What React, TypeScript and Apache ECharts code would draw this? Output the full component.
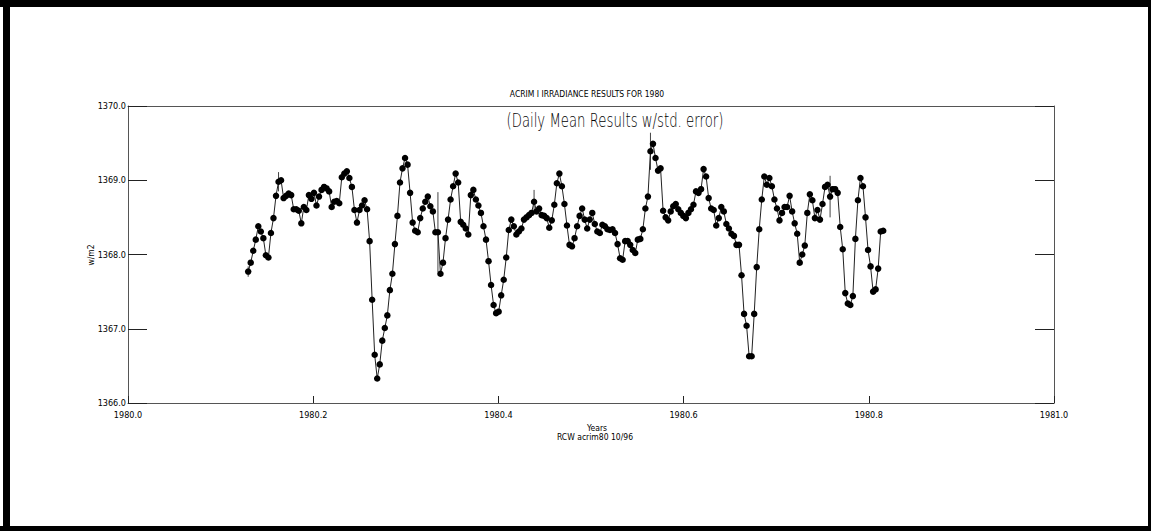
import { useEffect, useRef } from "react";
import * as echarts from "echarts";

// Daily mean ACRIM I irradiance, 1980 (leap year, 366 days); first value is day-of-year 48
const firstDay = 48;
const daysInYear = 366;
const irradiance = [
  1367.77, 1367.89, 1368.05, 1368.2, 1368.38, 1368.31, 1368.22, 1367.99, 1367.96, 1368.29,
  1368.49, 1368.79, 1368.98, 1369.0, 1368.76, 1368.79, 1368.82, 1368.8, 1368.61, 1368.61,
  1368.59, 1368.42, 1368.64, 1368.6, 1368.8, 1368.75, 1368.83, 1368.66, 1368.78, 1368.87,
  1368.91, 1368.89, 1368.85, 1368.64, 1368.71, 1368.72, 1368.69, 1369.04, 1369.09, 1369.12,
  1369.03, 1368.91, 1368.6, 1368.43, 1368.6, 1368.66, 1368.73, 1368.61, 1368.18, 1367.39,
  1366.65, 1366.33, 1366.52, 1366.84, 1367.01, 1367.18, 1367.52, 1367.74, 1368.14, 1368.52,
  1368.97, 1369.16, 1369.3, 1369.21, 1368.83, 1368.43, 1368.32, 1368.3, 1368.49, 1368.62,
  1368.71, 1368.78, 1368.65, 1368.58, 1368.3, 1368.3, 1367.74, 1367.89, 1368.22, 1368.47,
  1368.74, 1368.92, 1369.09, 1368.97, 1368.44, 1368.4, 1368.35, 1368.27, 1368.8, 1368.87,
  1368.74, 1368.66, 1368.56, 1368.38, 1368.2, 1367.91, 1367.59, 1367.32, 1367.21, 1367.23,
  1367.45, 1367.66, 1367.96, 1368.33, 1368.47, 1368.38, 1368.27, 1368.31, 1368.35, 1368.47,
  1368.5, 1368.53, 1368.56, 1368.71, 1368.58, 1368.62, 1368.53, 1368.52, 1368.49, 1368.36,
  1368.46, 1368.67, 1368.96, 1369.09, 1368.92, 1368.68, 1368.39, 1368.13, 1368.11, 1368.22,
  1368.38, 1368.52, 1368.62, 1368.47, 1368.35, 1368.47, 1368.56, 1368.41, 1368.31, 1368.29,
  1368.4, 1368.38, 1368.34, 1368.33, 1368.34, 1368.29, 1368.14, 1367.95, 1367.93, 1368.18,
  1368.18, 1368.13, 1368.06, 1368.02, 1368.2, 1368.21, 1368.34, 1368.62, 1368.78, 1369.39,
  1369.49, 1369.3, 1369.13, 1369.16, 1368.59, 1368.5, 1368.46, 1368.58, 1368.65, 1368.68,
  1368.61, 1368.56, 1368.52, 1368.49, 1368.56, 1368.61, 1368.67, 1368.85, 1368.83, 1368.88,
  1369.15, 1369.05, 1368.76, 1368.62, 1368.6, 1368.39, 1368.49, 1368.64, 1368.58, 1368.41,
  1368.35, 1368.28, 1368.25, 1368.13, 1368.13, 1367.72, 1367.2, 1367.04, 1366.63, 1366.63,
  1367.2, 1367.83, 1368.34, 1368.74, 1369.05, 1368.94, 1369.03, 1368.92, 1368.74, 1368.62,
  1368.46, 1368.56, 1368.64, 1368.64, 1368.79, 1368.58, 1368.42, 1368.28, 1367.89, 1368.0,
  1368.12, 1368.56, 1368.81, 1368.73, 1368.49, 1368.6, 1368.47, 1368.68, 1368.91, 1368.94,
  1368.78, 1368.88, 1368.88, 1368.83, 1368.37, 1368.07, 1367.48, 1367.34, 1367.32, 1367.44,
  1368.21, 1368.73, 1369.03, 1368.92, 1368.5, 1368.06, 1367.84, 1367.5, 1367.53, 1367.81,
  1368.31, 1368.32,
];
// visible standard-error bars: index into irradiance, half-length in W/m2
const errIdx = [0, 12, 75, 113, 159, 230];
const errSize = [0.07, 0.13, 0.54, 0.16, 0.25, 0.28];

const xMin = 1980.0;
const xMax = 1981.0;
const xStep = 0.2;
const yMin = 1366.0;
const yMax = 1370.0;
const yStep = 1.0;

const titleText = "ACRIM I IRRADIANCE RESULTS FOR 1980";
const subtitleText = "(Daily Mean Results w/std. error)";
const xName = "Years";
const footnote = "RCW acrim80 10/96";
const yName = "w/m2";

const narrow = '"Liberation Sans Narrow", "DejaVu Sans Condensed", "Arial Narrow", sans-serif';
const thinFont = '"DejaVu Sans", sans-serif';

function measure(text: string, font: string): number {
  const c = document.createElement("canvas");
  const ctx = c.getContext("2d");
  if (!ctx) return 0;
  ctx.font = font;
  return ctx.measureText(text).width;
}

export default function App() {
  const ref = useRef<HTMLDivElement>(null);
  useEffect(() => {
    const chart = echarts.init(ref.current as HTMLDivElement, null, { renderer: "svg" });
    const pts = irradiance.map((v, i) => [xMin + (firstDay + i - 0.5) / daysInYear, v]);
    const errData = errIdx.map((i, k) => [pts[i][0], pts[i][1] - errSize[k], pts[i][1] + errSize[k]]);
    const axisLineStyle = { color: "#555", width: 1 };

    const subSize = 20;
    const subW = measure(subtitleText, `300 ${subSize}px ${thinFont}`) || 300;
    const subScale = 217 / subW;

    chart.setOption({
      animation: false,
      backgroundColor: "#fff",
      grid: { left: 128, right: 97, top: 106, bottom: 128, containLabel: false },
      xAxis: [
        {
          type: "value",
          min: xMin,
          max: xMax,
          interval: xStep,
          position: "bottom",
          axisLine: { show: true, onZero: false, lineStyle: axisLineStyle },
          axisTick: { show: true, inside: true, length: 7, lineStyle: { color: "#222", width: 1 } },
          axisLabel: {
            formatter: (v: number) => v.toFixed(1),
            fontSize: 9,
            color: "#000",
            margin: 7,
            fontFamily: narrow,
          },
          splitLine: { show: false },
        },
        {
          type: "value",
          min: xMin,
          max: xMax,
          interval: xStep,
          position: "top",
          axisLine: { show: true, onZero: false, lineStyle: axisLineStyle },
          axisTick: { show: false },
          axisLabel: { show: false },
          splitLine: { show: false },
        },
      ],
      yAxis: [
        {
          type: "value",
          min: yMin,
          max: yMax,
          interval: yStep,
          position: "left",
          axisLine: { show: true, onZero: false, lineStyle: axisLineStyle },
          axisTick: { show: true, inside: true, length: 19, lineStyle: { color: "#222", width: 1 } },
          axisLabel: {
            formatter: (v: number) => v.toFixed(1),
            fontSize: 9,
            color: "#000",
            margin: 2,
            fontFamily: narrow,
          },
          splitLine: { show: false },
        },
        {
          type: "value",
          min: yMin,
          max: yMax,
          interval: yStep,
          position: "right",
          axisLine: { show: true, onZero: false, lineStyle: axisLineStyle },
          axisTick: { show: true, inside: true, length: 19, lineStyle: { color: "#222", width: 1 } },
          axisLabel: { show: false },
          splitLine: { show: false },
        },
      ],
      series: [
        {
          type: "custom",
          xAxisIndex: 0,
          yAxisIndex: 0,
          data: errData,
          z: 1,
          renderItem: (params: any, api: any) => {
            const lo = api.coord([api.value(0), api.value(1)]);
            const hi = api.coord([api.value(0), api.value(2)]);
            return {
              type: "line",
              shape: { x1: lo[0], y1: lo[1], x2: hi[0], y2: hi[1] },
              style: { stroke: "#444", lineWidth: 1 },
            };
          },
        },
        {
          type: "line",
          xAxisIndex: 0,
          yAxisIndex: 0,
          data: pts,
          showSymbol: true,
          symbol: "circle",
          symbolSize: 6.5,
          itemStyle: { color: "#000" },
          lineStyle: { color: "#222", width: 1 },
          z: 2,
        },
      ],
      graphic: [
        { type: "rect", shape: { x: 0, y: 0, width: 1151, height: 7 }, style: { fill: "#000" } },
        { type: "rect", shape: { x: 3, y: 0, width: 7, height: 531 }, style: { fill: "#000" } },
        { type: "rect", shape: { x: 1148, y: 0, width: 3, height: 531 }, style: { fill: "#000" } },
        { type: "rect", shape: { x: 0, y: 526, width: 1151, height: 5 }, style: { fill: "#000" } },
        {
          type: "text",
          x: 587,
          y: 98,
          style: { text: titleText, fontSize: 8.5, fontFamily: narrow, fill: "#000", align: "center", verticalAlign: "bottom" },
        },
        {
          type: "text",
          x: 615,
          y: 120,
          scaleX: subScale,
          style: {
            text: subtitleText,
            fontSize: subSize,
            fontWeight: 300,
            fontFamily: thinFont,
            fill: "#000",
            align: "center",
            verticalAlign: "middle",
          },
        },
        {
          type: "text",
          x: 597,
          y: 428,
          style: { text: xName, fontSize: 8.5, fontFamily: narrow, fill: "#000", align: "center", verticalAlign: "middle" },
        },
        {
          type: "text",
          x: 595,
          y: 437,
          style: { text: footnote, fontSize: 8.5, fontFamily: narrow, fill: "#000", align: "center", verticalAlign: "middle" },
        },
        {
          type: "text",
          x: 91,
          y: 255,
          rotation: Math.PI / 2,
          style: { text: yName, fontSize: 8.5, fontFamily: narrow, fill: "#000", align: "center", verticalAlign: "middle" },
        },
      ],
    });
    return () => chart.dispose();
  }, []);
  return (
    <div
      ref={ref}
      style={{ position: "fixed", left: 0, top: 0, width: 1151, height: 531, background: "#fff" }}
    />
  );
}
